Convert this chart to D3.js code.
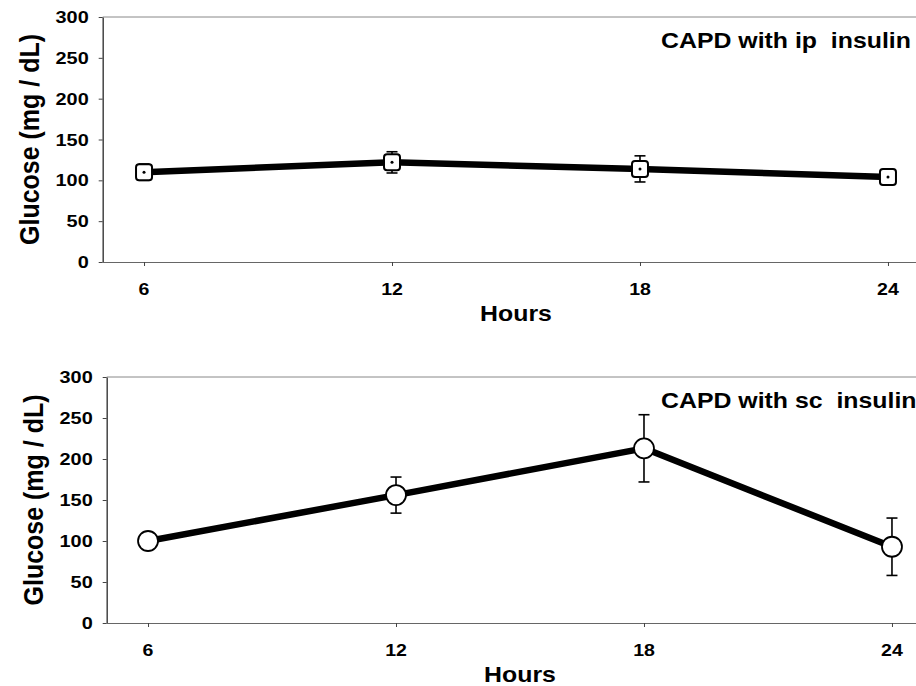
<!DOCTYPE html>
<html>
<head>
<meta charset="utf-8">
<script src="https://cdn.jsdelivr.net/npm/d3@7"></script>
<style>
  html, body { margin: 0; padding: 0; background: #fff; }
  svg { display: block; }
  text { font-family: "Liberation Sans", Arial, sans-serif; font-weight: bold; fill: #000; white-space: pre; }
</style>
</head>
<body>
<svg id="chart" width="916" height="686"></svg>
<script>
// Sampling times (hours) and glucose readings (mean ± SD, mg/dL)
const hours = [6, 12, 18, 24];
const ipMean = [110, 122, 114, 104];
const ipErr = [10, 13, 16, 9];
const scMean = [100, 156, 213, 93];
const scErr = [0, 22, 41, 35];
const yTicks = [0, 50, 100, 150, 200, 250, 300];
const titles = ["CAPD with ip  insulin", "CAPD with sc  insulin"];
const xLabel = "Hours";
const yLabel = "Glucose (mg / dL)";

const svg = d3.select("#chart");
const SX = 1.13; // horizontal text stretch

const panels = [
  { top: 17, bottom: 262, left: 102.7, mean: ipMean, err: ipErr, marker: "square", title: titles[0] },
  { top: 377, bottom: 623, left: 106.7, mean: scMean, err: scErr, marker: "circle", title: titles[1] }
];

function stretchedText(g, x, y, str, size, anchor, sx) {
  return g.append("text")
    .attr("xml:space", "preserve")
    .attr("transform", `translate(${x},${y}) scale(${sx},1)`)
    .attr("text-anchor", anchor)
    .style("font-size", size + "px")
    .text(str);
}

panels.forEach(p => {
  const g = svg.append("g");
  const step = 41.33;
  const x = d3.scaleLinear().domain([5, 25]).range([p.left, p.left + 20 * step]);
  const y = d3.scaleLinear().domain([0, 300]).range([p.bottom, p.top]);

  // frame: top border
  g.append("line")
    .attr("x1", x(5)).attr("x2", x(25))
    .attr("y1", y(300)).attr("y2", y(300))
    .attr("stroke", "#888").attr("stroke-width", 1);

  // x axis
  const xAxis = g.append("g")
    .attr("transform", `translate(0,${y(0)})`)
    .call(d3.axisBottom(x).tickValues(hours).tickSize(4).tickSizeOuter(0).tickFormat(""));
  xAxis.select(".domain").attr("stroke", "#666").attr("stroke-width", 1.2);
  xAxis.selectAll(".tick line").attr("stroke", "#444");

  hours.forEach(h => stretchedText(g, x(h), y(0) + 33, String(h), 17, "middle", 1.15));

  // y axis
  const yAxis = g.append("g")
    .attr("transform", `translate(${x(5)},0)`)
    .call(d3.axisLeft(y).tickValues(yTicks).tickSize(4).tickSizeOuter(0).tickFormat(""));
  yAxis.select(".domain").attr("stroke", "#444").attr("stroke-width", 1.5);
  yAxis.selectAll(".tick line").attr("stroke", "#444");

  yTicks.forEach(v => stretchedText(g, x(5) - 14, y(v) + 6, String(v), 17, "end", 1.17));

  // axis titles
  stretchedText(g, (x(6) + x(24)) / 2, y(0) + 59, xLabel, 22, "middle", SX);
  g.append("text")
    .attr("transform", `translate(${x(5) - 64},${(p.top + p.bottom) / 2}) rotate(-90) scale(1,${SX})`)
    .attr("text-anchor", "middle")
    .style("font-size", "25px")
    .text(yLabel);

  // panel title
  stretchedText(g, 661, p.top + 31, p.title, 22, "start", SX);

  // data line
  const line = d3.line().x((d, i) => x(hours[i])).y(d => y(d));
  g.append("path")
    .datum(p.mean)
    .attr("d", line)
    .attr("fill", "none")
    .attr("stroke", "#000")
    .attr("stroke-width", 6.5)
    .attr("stroke-linejoin", "round");

  // error bars
  const capW = 5.5;
  p.mean.forEach((m, i) => {
    const e = p.err[i];
    if (!e) return;
    const cx = x(hours[i]);
    const eg = g.append("g").attr("stroke", "#000").attr("stroke-width", 1.6);
    eg.append("line").attr("x1", cx).attr("x2", cx).attr("y1", y(m + e)).attr("y2", y(m - e));
    eg.append("line").attr("x1", cx - capW).attr("x2", cx + capW).attr("y1", y(m + e)).attr("y2", y(m + e));
    eg.append("line").attr("x1", cx - capW).attr("x2", cx + capW).attr("y1", y(m - e)).attr("y2", y(m - e));
  });

  // markers
  p.mean.forEach((m, i) => {
    const cx = x(hours[i]), cy = y(m);
    if (p.marker === "square") {
      g.append("rect")
        .attr("x", cx - 8).attr("y", cy - 8)
        .attr("width", 16).attr("height", 16)
        .attr("rx", 3)
        .attr("fill", "#fff").attr("stroke", "#000").attr("stroke-width", 2);
      g.append("circle").attr("cx", cx).attr("cy", cy).attr("r", 1.5).attr("fill", "#000");
    } else {
      g.append("circle")
        .attr("cx", cx).attr("cy", cy).attr("r", 10)
        .attr("fill", "#fff").attr("stroke", "#000").attr("stroke-width", 1.8);
    }
  });
});
</script>
</body>
</html>
